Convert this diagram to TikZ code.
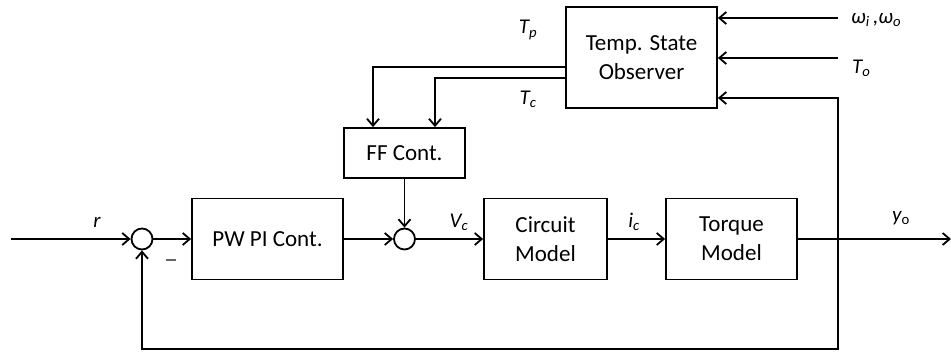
\documentclass[tikz,border=0pt]{standalone}
\usepackage{fontspec}
\setmainfont{Carlito}
\usetikzlibrary{arrows.meta}

\tikzset{
  block/.style={draw, line width=1.8pt, align=center, inner sep=0pt,
    font=\fontsize{23}{29}\selectfont},
  sumnode/.style={draw, circle, line width=1.8pt, minimum size=21pt, inner sep=0pt},
  wire/.style={line width=1.8pt, -{Straight Barb[length=7pt,width=12pt,line width=1.8pt]}},
  sig/.style={font=\fontsize{21}{24}\selectfont\itshape, inner sep=0pt}
}

\begin{document}
\begin{tikzpicture}[x=1pt, y=-1pt]
	\useasboundingbox (0,0) rectangle (951,354);

	% Draw blocks
	\node[block, minimum width=151pt, minimum height=101pt] (obs) at (641.5,57.5) {Temp. State\\Observer};
	\node[block, minimum width=121pt, minimum height=50pt] (ff) at (404.5,153) {FF Cont.};
	\node[block, minimum width=151pt, minimum height=81pt] (pi) at (267.5,239) {PW PI Cont.};
	\node[block, minimum width=123pt, minimum height=81pt] (circ) at (545.5,239) {Circuit\\Model};
	\node[block, minimum width=131pt, minimum height=81pt] (torq) at (731.5,239) {Torque\\Model};

	% Draw summing junctions
	\node[sumnode] (sa) at (142,239) {};
	\node[sumnode] (sb) at (404.5,239) {};

	% Free ends
	\coordinate (ref) at (11,239);
	\coordinate (out) at (951,239);
	\coordinate (tap) at (838,239);
	\coordinate (low) at (838,349);
	\coordinate (fbin) at (838,98);
	\coordinate (win) at (838,18);
	\coordinate (tin) at (838,58);

	% Draw forward path
	\draw[wire] (ref) -- (sa.west);
	\draw[wire] (sa.east) -- (pi.west);
	\draw[wire] (pi.east) -- (sb.west);
	\draw[wire] (sb.east) -- (circ.west);
	\draw[wire] (circ.east) -- (torq.west);
	\draw[wire] (torq.east) -- (out);

	% Draw feedback paths
	\draw[wire] (tap) -- (low) -| (sa.south);
	\draw[wire] (tap) -- (fbin) -- (obs.east |- fbin);
	\draw[wire] (win) -- (obs.east |- win);
	\draw[wire] (tin) -- (obs.east |- tin);

	% Draw feedforward paths
	\draw[wire] ([yshift=-9.5pt]obs.west) -| ([xshift=-31.5pt]ff.north);
	\draw[wire] ([yshift=-20.5pt]obs.west) -| ([xshift=30.5pt]ff.north);
	\draw[wire] (ff.south) -- (sb.north);

	% Draw signal labels
	\node[sig, text=black!60] (lm) at (171,260) {\rule{10pt}{1.5pt}};
	\node[sig] (lr) at (97,222) {r};
	\node[sig] (lv) at (459,222) {V\textsubscript{c}};
	\node[sig] (li) at (634,222) {i\textsubscript{c}};
	\node[sig] (ly) at (901,218) {y\textsubscript{\upshape o}};
	\node[sig] (ltp) at (528,30) {T\textsubscript{p}};
	\node[sig] (ltc) at (528,99) {T\textsubscript{c}};
	\node[sig, anchor=west] (lw) at (851,20) {ω\textsubscript{i}\,,ω\textsubscript{o}};
	\node[sig, anchor=west] (lto) at (852,68) {T\textsubscript{o}};
\end{tikzpicture}
\end{document}
